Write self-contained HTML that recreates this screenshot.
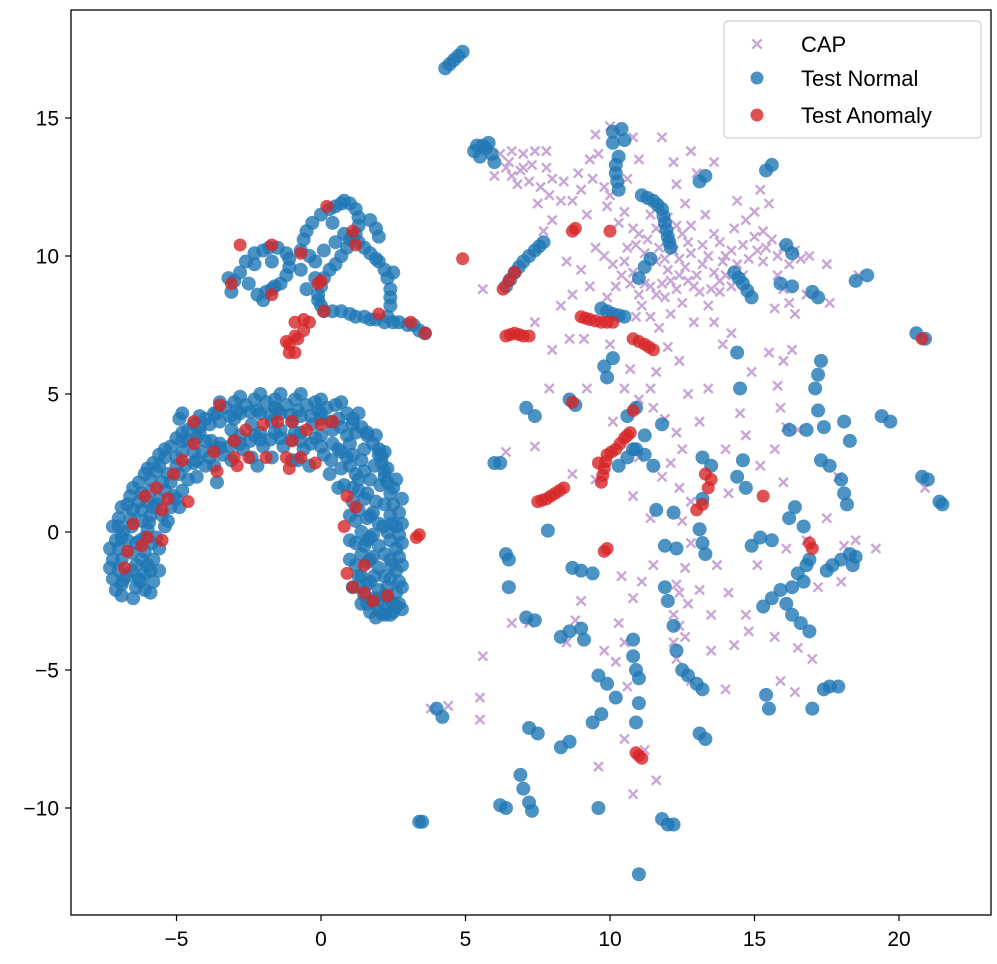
<!DOCTYPE html>
<html><head><meta charset="utf-8">
<style>
html,body{margin:0;padding:0;background:#fff;}
svg{display:block;font-family:"Liberation Sans","DejaVu Sans",sans-serif;}
</style></head>
<body>
<svg id="chart" width="997" height="964" viewBox="0 0 997 964" xmlns="http://www.w3.org/2000/svg">
<text x="670" y="5" font-size="22" text-anchor="middle">Embedding space</text>
<rect x="0" y="0" width="997" height="10" fill="#fff"/>
<g id="plot"></g>
<g id="axes"></g>
<g id="legend"></g>
</svg>
<script>
const xTicks = [-5, 0, 5, 10, 15, 20];
const yTicks = [15, 10, 5, 0, -5, -10];
const tickLabels = ["\u22125", "0", "5", "10", "15", "20"];
const yTickLabels = ["15", "10", "5", "0", "\u22125", "\u221210"];
const seriesNames = ["CAP", "Test Normal", "Test Anomaly"];

const capPoints = [6.2,13.7,6.6,13.8,7.0,13.7,7.4,13.8,7.8,13.8,6.4,13.2,6.9,13.1,7.2,12.7,7.6,12.5,7.9,12.2,8.3,12.0,6.8,12.6,7.5,11.9,8.0,11.3,7.7,10.9,8.9,13.0,8.7,12.0,9.2,11.5,9.4,12.8,9.6,13.7,9.5,14.4,10.0,14.7,10.8,14.3,11.0,13.5,9.8,12.5,9.9,11.8,10.5,11.6,10.8,11.0,11.4,11.5,12.0,11.4,12.3,12.6,12.2,13.4,13.0,13.0,12.6,11.9,12.8,11.1,13.3,11.5,9.5,10.3,9.8,10.0,10.1,9.7,10.4,9.3,10.7,9.0,11.0,8.6,10.2,8.9,10.6,10.3,11.2,10.1,11.6,9.8,12.0,9.5,12.4,9.9,12.8,10.1,13.2,9.7,13.6,9.4,13.9,9.8,14.2,10.2,14.6,10.4,15.0,10.7,15.3,10.9,14.3,11.0,14.7,11.3,15.0,11.6,15.4,10.3,15.8,10.0,16.2,9.7,16.6,9.9,16.9,10.0,15.8,9.3,16.0,8.8,16.2,8.3,16.4,7.9,15.7,8.1,11.4,8.9,11.8,9.0,12.3,8.8,12.7,9.1,13.1,8.7,12.5,8.3,12.1,7.9,12.9,7.6,13.4,8.2,13.8,8.7,14.2,8.9,11.4,7.8,11.7,7.4,12.0,6.7,12.4,6.2,11.6,5.8,11.4,5.2,11.0,4.8,11.5,4.5,11.9,4.1,12.3,3.6,12.5,3.0,12.1,2.5,11.8,2.0,12.4,1.6,12.8,1.1,12.5,0.4,12.8,-0.4,12.6,-1.3,12.3,-1.9,12.7,-2.6,12.4,-3.4,12.2,-4.0,13.1,-2.1,13.7,-1.2,14.1,-2.2,14.7,-3.0,11.5,-1.2,11.1,-1.8,10.8,-2.4,10.3,-3.3,10.5,-4.0,10.2,-4.7,10.6,-5.6,9.8,-4.3,9.0,-2.5,8.8,-3.2,8.5,-4.0,7.2,-3.3,6.6,-3.3,5.6,-4.5,3.8,-6.4,4.4,-6.3,5.5,-6.0,9.6,-8.5,10.5,-7.5,11.2,-7.9,11.6,-9.0,10.8,-9.5,12.8,-5.4,13.5,-4.3,14.8,-3.6,15.7,-3.8,16.5,-4.2,17.0,-4.6,17.2,-2.0,16.8,-0.3,17.5,0.5,16.0,1.8,15.2,2.4,14.1,1.4,14.0,3.0,14.7,3.5,15.7,3.0,16.1,3.8,15.9,4.5,16.5,3.7,13.1,4.0,13.4,5.2,12.7,5.0,14.5,4.3,15.5,6.5,16.0,6.2,16.3,6.6,15.8,5.3,14.9,5.8,10.5,5.2,10.0,6.8,9.1,7.0,8.6,7.0,8.3,8.2,7.4,7.6,8.0,6.6,7.9,5.2,10.1,4.0,10.7,5.9,9.2,5.2,13.9,6.8,13.6,7.6,14.2,7.2,7.4,3.1,6.4,2.9,5.6,8.8,8.7,2.1,9.5,1.9,11.0,2.7,10.8,1.3,11.4,0.5,10.4,-1.6,13.5,-3.0,14.3,-4.1,15.1,-1.2,16.1,-0.6,18.0,-1.8,18.1,-0.5,19.2,-0.6,17.9,2.0,18.5,-0.3,20.9,1.6,17.5,9.7,16.8,8.6,17.6,8.3,18.6,9.3,15.2,12.4,15.5,11.9,12.8,13.8,13.6,13.4,14.4,12.0,11.8,14.3,10.6,12.8,12.5,10.8,13.8,10.5,8.5,9.8,9.0,9.5,9.3,8.9,8.7,8.6,9.9,8.5,6.5,13.4,6.0,12.9,15.9,-5.4,16.4,-5.8,14.0,-5.7,5.5,-6.8,
10.5,9.8,10.9,10.4,11.3,10.6,11.7,10.3,12.2,10.2,12.6,9.6,13.0,9.3,13.4,10.0,13.6,10.8,14.0,9.3,14.4,9.7,14.8,9.9,15.1,10.2,15.6,10.6,16.0,10.3,16.4,10.2,12.1,9.1,12.9,8.9,13.5,8.8,11.9,8.5,11.1,8.2,10.9,7.8,10.3,11.2,10.0,12.2,9.3,13.5,9.0,12.4,8.4,12.7,8.0,12.8,7.0,13.2,6.6,12.9,7.3,13.3,7.8,13.2,12.4,-2.2,12.2,-3.0,12.6,-3.8,12.3,-4.6,11.2,9.0,11.6,8.6,12.4,9.3,13.8,9.1,14.6,9.3,15.3,9.8,10.8,9.4,11.9,9.9,12.7,10.5,13.2,10.4,14.0,10.0,11.0,10.8,11.6,11.0,12.3,11.1];

const normalPoints = [
-7.1,-2.1,-7,-1.4,-7,-0.6,-7,0.2,-6.7,1,-6.3,1.8,-5.8,2.5,-5.2,3.1,-4.6,3.7,-4,4.1,-3.3,4.5,-2.6,4.6,-1.9,4.7,-1.2,4.6,-0.5,4.6,0.2,4.5,0.9,4.3,1.4,3.8,1.8,3.2,2.1,2.5,2.3,1.8,2.5,1,2.6,0.2,2.6,-0.6,2.6,-1.4,2.6,-2.2,2.5,-2.9,
-6.4,-2,-6.4,-1.2,-6.4,-0.4,-6.2,0.4,-6,1.1,-5.5,1.8,-5,2.4,-4.4,2.9,-3.8,3.3,-3.1,3.7,-2.4,3.9,-1.7,4,-1,4,-0.3,3.9,0.4,3.7,1,3.2,1.4,2.6,1.7,1.9,1.9,1.1,2,0.3,2,-0.5,2,-1.3,2,-2.1,2,-2.8,
-5.8,-1.8,-5.8,-1,-5.7,-0.2,-5.5,0.6,-5.1,1.3,-4.6,1.9,-4,2.4,-3.4,2.8,-2.7,3,-2,3.1,-1.3,3.1,-0.6,3,0.1,2.8,0.7,2.3,1.1,1.6,1.3,0.8,1.4,0,1.4,-0.8,1.4,-1.6,1.5,-2.3,1.7,-2.9,
-6.7,-1.6,-6.7,-0.3,-6.5,0.8,-5.7,2.2,-4.3,3.4,-3,4.1,-1.5,4.4,0,4.1,1.2,3.6,2.2,2,2.3,0,2.3,-2,-6.1,-2.1,-4.9,0.9,-3.6,1.8,-2.2,2.4,-0.8,2.6,0.6,1.6,1,-0.3,1.1,-2,2.2,-2.6,
-6.9,-1.9,-6.9,-1.0,-6.9,-0.2,-6.6,0.5,-6.2,1.4,-5.9,1.9,-5.4,2.7,-4.8,3.3,-4.2,3.8,-3.6,4.3,-2.9,4.4,-2.2,4.4,-1.6,4.5,-0.8,4.4,-0.1,4.4,0.6,4.1,1.1,3.9,1.6,3.5,2.0,2.8,2.2,2.2,2.4,1.4,2.4,0.6,2.4,-0.3,2.4,-1.0,2.4,-1.7,2.3,-2.4,
-6.1,-1.5,-6.1,-0.7,-6.0,0.1,-5.8,0.9,-5.4,1.5,-4.9,2.1,-4.3,2.6,-3.7,3.0,-3.0,3.3,-2.3,3.5,-1.6,3.6,-0.9,3.6,-0.2,3.4,0.4,3.2,0.9,2.7,1.2,2.1,1.6,1.4,1.7,0.6,1.7,-0.2,1.7,-1.0,1.7,-1.8,1.8,-2.5,
-7.2,-1.7,-7.2,-1.0,-7.1,-0.3,-7.0,0.5,-6.6,1.3,-6.1,2.1,-5.6,2.8,-5.0,3.4,-4.4,3.9,-3.7,4.3,-3.0,4.7,-2.3,4.8,-1.6,4.8,-0.9,4.8,-0.2,4.7,0.5,4.6,1.1,4.1,1.6,3.6,2.0,3.0,2.3,2.3,2.5,1.6,2.7,0.7,2.7,-0.1,2.7,-0.9,2.7,-1.8,2.7,-2.6,2.4,-3.0,
-6.3,-1.7,-6.2,-1.0,-6.1,-0.2,-5.9,0.6,-5.6,1.2,-5.2,1.8,-4.7,2.4,-4.1,2.9,-3.5,3.2,-2.8,3.5,-2.1,3.6,-1.4,3.7,-0.7,3.6,0.0,3.5,0.6,3.0,1.0,2.4,1.3,1.9,1.5,1.2,1.6,0.5,1.6,-0.3,1.6,-1.1,1.6,-1.9,1.6,-2.6,
-5.6,-1.4,-5.6,-0.6,-5.4,0.2,-5.2,0.9,-4.8,1.5,-4.3,2.0,-3.7,2.4,-3.1,2.6,-2.4,2.7,-1.7,2.7,-1.0,2.6,-0.4,2.4,0.3,2.1,0.8,1.7,1.1,1.1,1.2,0.4,1.2,-0.4,1.2,-1.2,1.3,-2.0,
-6.9,-2.3,-6.5,-2.4,-5.9,-2.2,-7.3,-1.3,-7.3,-0.6,-7.2,0.2,-6.9,0.9,-6.5,1.6,-6.0,2.3,-5.4,3.0,-4.8,3.6,-4.2,4.2,-3.5,4.7,-2.8,4.9,-2.1,5.0,-1.4,5.0,-0.7,5.0,0.0,4.8,0.7,4.7,1.3,4.3,1.9,3.5,2.2,2.9,2.6,1.9,2.8,1.2,2.8,0.3,2.8,-0.4,2.8,-1.2,2.8,-2.0,2.8,-2.8,2.2,-3.0,1.9,-3.1,-4.9,4.1,-4.8,4.3,
-4.2,3.6,-3.85,3.9,-3.5,4.0,-3.15,4.2,-2.8,4.3,-2.45,4.35,-2.1,4.3,-1.75,4.25,-1.4,4.3,-1.05,4.25,-0.7,4.2,-0.35,4.2,0,4.3,0.35,4.0,0.7,3.8,
-3.85,2.7,-3.5,3.05,-3.15,3.1,-2.8,3.2,-2.45,3.3,-2.1,3.35,-1.75,3.35,-1.4,3.4,-1.05,3.35,-0.7,3.3,-0.35,3.2,0,3.1,0.35,2.6,0.7,2.9,
-6.85,-1.75,-6.55,-1.4,-6.25,-1.8,-6.0,-1.2,-6.55,-0.75,-6.25,-0.3,-6.85,0.0,-6.55,0.2,-6.2,0.8,-5.95,0.35,-5.7,1.0,-6.3,1.1,-5.9,1.5,-5.3,2.1,-4.8,2.9,-4.4,2.5,-5.0,2.7,-5.6,2.4,-4.6,3.3,-4.0,3.3,-5.85,-0.4,-5.9,-1.4,-5.3,0.4,-5.0,1.2,
1.85,2.4,2.05,1.7,1.5,2.2,2.2,1.0,1.8,0.7,2.15,0.2,1.8,-0.1,2.2,-0.8,1.8,-0.9,2.2,-1.6,1.85,-1.6,2.2,-2.3,1.85,-2.4,2.1,-2.95,2.45,-2.55,2.45,-1.2,2.45,0.3,2.1,2.75,1.5,3.0,1.3,1.5,1.1,2.8,0.9,3.5,1.5,-0.5,1.3,-1.6,1.4,-2.6,2.6,-2.7,1.0,-1.0,1.0,0.6,
-3.1,8.7,-2.8,9.4,-2.3,10.1,-1.8,10.3,-1.2,10.1,-1.1,9.6,-1.4,9,-1.9,8.7,-2,8.4,-1.6,8.9,-0.7,10.2,-0.5,10.9,0,11.5,0.5,11.8,0.8,12,1.2,11.7,1.3,11.1,1,10.6,0.7,10,0.3,9.5,0,8.9,-0.1,8.4,0.1,8,0.7,8,1.2,7.8,1.7,7.7,2.2,7.6,2.7,7.6,3.2,7.5,3.6,7.2,-0.7,9.5,-0.4,10,0.1,10.2,0.8,10.8,1.3,10.5,1.7,10.1,2,9.8,2.3,9.2,2.4,8.5,2,10.7,1.7,11.3,-2.5,9.0,-0.5,8.8,-0.2,9.2,2.3,7.8,2.5,9.4,-3.2,9.2,0.4,11.2,-1.7,9.8,-2.3,9.7,
-3.0,9.1,-2.6,9.8,-2.0,10.2,-1.5,10.3,-1.1,9.9,-1.2,9.3,-1.7,8.8,-2.2,8.6,-0.6,10.6,-0.3,11.2,0.3,11.7,0.7,11.9,1.0,11.9,1.3,11.4,1.2,10.8,0.9,10.3,0.5,9.7,0.1,9.2,-0.1,8.6,0.0,8.2,0.4,8.0,1.0,7.9,1.5,7.8,1.9,7.7,2.5,7.6,3.0,7.5,3.4,7.3,-0.2,9.8,0.5,10.5,1.1,10.7,1.5,10.3,1.9,9.9,2.2,9.5,2.4,8.8,2.4,8.2,1.9,11.0,
4.3,16.8,4.6,17.1,4.9,17.4,4.45,16.95,4.75,17.25,5.3,13.8,5.6,14,5.9,13.7,6.0,13.4,5.5,13.6,5.8,14.1,5.7,13.9,5.4,14.0,10.1,14.5,10.4,14.6,10.1,14.1,10.5,14.2,10.3,13.6,10.2,13,10.3,12.4,10.2,13.3,10.25,12.7,11.1,12.2,11.5,12,11.8,11.7,11.9,11.2,12,10.7,12.1,10.3,11.3,12.1,11.65,11.85,11.85,11.45,11.95,10.95,12.05,10.5,13.1,12.7,13.3,12.9,15.4,13.1,15.6,13.3,
6.4,8.9,6.7,9.4,7,9.8,7.4,10.2,7.7,10.5,6.55,9.15,6.85,9.6,7.2,10.0,7.55,10.35,11.2,9.6,11.4,9.9,11.0,9.2,9.7,8.1,10.1,7.9,10.5,7.8,9.9,8.0,10.3,7.85,14.3,9.4,14.6,9.0,14.9,8.5,14.45,9.2,14.75,8.75,16.1,10.4,16.3,10.1,15.9,9.0,16.3,8.9,17,8.7,17.2,8.5,18.5,9.1,18.9,9.3,20.6,7.2,20.9,7,
9.8,6.0,9.9,5.6,10.1,6.3,10.6,4.2,10.9,4.5,7.1,4.5,7.4,4.2,8.6,4.8,8.8,4.6,11.8,3.9,11.2,3.5,10.8,3.0,13.2,2.7,13.5,2.4,14.4,6.5,14.5,5.2,6.0,2.5,6.2,2.5,7.85,0.05,6.4,-0.8,6.5,-1,6.5,-2,8.7,-1.3,9.0,-1.4,9.4,-1.5,7.1,-3.1,7.4,-3.2,8.3,-3.8,8.6,-3.6,9,-3.5,9.1,-3.9,10.8,-3.9,10.8,-4.5,10.9,-5,9.6,-5.2,9.9,-5.5,10.2,-6.0,11.0,-5.3,11.0,-6.2,10.9,-6.9,12.2,-3.4,12.0,-2.5,11.9,-2,12.3,-4.3,12.5,-5,13,-5.5,13.2,-5.7,12.7,-5.2,13.3,-7.5,13.1,-7.3,7.2,-7.1,7.5,-7.3,8.3,-7.8,8.6,-7.6,9.4,-6.9,9.7,-6.6,6.9,-8.8,7.0,-9.3,7.2,-9.8,7.3,-10.1,6.2,-9.9,6.4,-10.0,9.6,-10,11.8,-10.4,12.0,-10.6,12.2,-10.6,11.0,-12.4,3.4,-10.5,3.5,-10.5,4.0,-6.4,4.2,-6.7,
16.4,0.9,16.2,0.5,16.7,0.2,15.2,-0.2,14.9,-0.5,15.6,-0.3,12.2,0.7,11.6,0.8,13.1,0.1,13.2,-0.4,13.3,-0.8,12.3,-0.6,11.9,-0.5,14.6,2.6,14.4,2.0,14.7,1.6,16.2,3.7,16.8,3.7,17.4,3.8,17.3,6.2,17.2,5.7,17.1,5.2,17.2,4.4,18.1,4.0,18.3,3.3,19.4,4.2,19.7,4.0,20.8,2.0,21.0,1.9,21.5,1.0,21.4,1.1,17.3,2.6,17.6,2.4,18.0,1.9,18.1,1.4,18.2,1.0,18.3,-0.8,18.5,-0.9,18.0,-1.0,17.7,-1.2,17.5,-1.4,18.4,-1.2,16.5,-1.5,16.7,-1.8,16.3,-2.0,15.3,-2.7,15.6,-2.4,15.9,-2.1,16.1,-2.6,16.3,-3.0,16.6,-3.3,16.9,-3.6,15.4,-5.9,15.5,-6.4,17.0,-6.4,17.6,-5.6,17.9,-5.6,17.4,-5.7,16.8,-1.2,16.9,-1.0,10.3,2.4,10.6,2.7,10.9,3.0,11.5,2.4,11.2,2.8,13.2,1.2];

const anomalyPoints = [-6.2,-0.5,-6.5,0.3,-6.1,1.3,-5.7,1.6,-5.3,1.2,-5.5,0.8,-5.1,2.1,-4.8,2.6,-4.4,3.2,-3.7,2.9,-3,3.3,-2.6,3.7,-2.0,3.9,-1.5,4.0,-1,4.0,-0.5,3.7,0,3.9,0.4,4.0,-3.6,2.2,-3,2.7,-2.5,2.7,-1.9,2.7,-1.2,2.7,-0.7,2.7,-0.2,2.5,-4.6,1.1,-6.7,-0.7,-6.8,-1.3,-6.0,-0.2,-5.5,-0.3,0.9,1.3,1.2,0.9,0.8,0.2,0.9,-1.5,1.1,-2.0,1.5,-2.2,1.8,-2.5,2.3,-2.3,-1.0,3.3,-3.5,4.6,-4.4,4.0,-2.9,2.4,3.3,-0.2,3.4,-0.1,-1.1,2.3,1.5,-1.2,
-3.1,9.0,-2.8,10.4,-1.7,10.4,-1.7,8.6,-0.7,10.1,-0.1,9.0,0,9.1,0.2,11.8,1.1,10.9,1.2,10.4,2,7.9,3.1,7.6,3.6,7.2,0.1,8.0,
-0.9,7.6,-0.6,7.7,-0.6,7.3,-0.9,7.1,-1.1,6.8,-1.1,6.5,-0.9,6.5,-0.8,7.0,-0.4,7.6,-1.2,6.9,
4.9,9.9,6.3,8.8,6.5,9.1,6.7,9.4,8.7,10.9,8.8,11.0,10.0,10.9,6.4,7.1,6.7,7.2,7.0,7.1,7.2,7.1,6.55,7.15,6.85,7.15,9.0,7.8,9.3,7.7,9.7,7.6,10.1,7.6,9.15,7.75,9.5,7.65,9.9,7.6,10.8,7.0,11.2,6.8,11.5,6.6,11.0,6.9,11.35,6.7,8.7,4.7,10.8,4.4,9.7,1.8,9.8,2.3,9.9,2.8,10.2,3.0,10.5,3.4,10.7,3.6,9.6,2.5,9.75,2.05,9.85,2.55,10.05,2.9,10.35,3.2,10.6,3.5,7.5,1.1,7.8,1.2,8.1,1.4,8.4,1.6,7.65,1.15,7.95,1.3,8.25,1.5,13.3,2.1,13.4,1.6,13.5,1.9,13.2,1.0,13.0,0.8,15.3,1.3,9.9,-0.6,9.8,-0.7,16.9,-0.4,17.0,-0.6,20.8,7.0,11.0,-8.1,11.1,-8.2,10.9,-8.0];

const X0 = 321, XS = 28.9, Y0 = 532, YS = 27.6;
const L = 71, R = 991, T = 10, B = 915;
function sx(v){ return X0 + v * XS; }
function sy(v){ return Y0 - v * YS; }
const NS = "http://www.w3.org/2000/svg";
function mk(tag, attrs, parent){
  const e = document.createElementNS(NS, tag);
  for (const k in attrs) e.setAttribute(k, attrs[k]);
  parent.appendChild(e);
  return e;
}
const plot = document.getElementById('plot');
const axes = document.getElementById('axes');
const legend = document.getElementById('legend');

const capG = mk('g', {}, plot);


for (let i = 0; i < capPoints.length; i += 2) {
  const cx = sx(capPoints[i]), cy = sy(capPoints[i+1]), d = 4.5;
  const p = mk('path', {d:`M${cx-d},${cy-d}L${cx+d},${cy+d}M${cx-d},${cy+d}L${cx+d},${cy-d}`, stroke:'#c8a6d6', 'stroke-width':2.4, fill:'none'}, capG);
  
  
}
const nG = mk('g', {}, plot);


for (let i = 0; i < normalPoints.length; i += 2) {
  const c = mk('circle', {cx:sx(normalPoints[i]), cy:sy(normalPoints[i+1]), r:7, fill:'#1f77b4', 'fill-opacity':0.8}, nG);
  
  
}
const aG = mk('g', {}, plot);


for (let i = 0; i < anomalyPoints.length; i += 2) {
  const c = mk('circle', {cx:sx(anomalyPoints[i]), cy:sy(anomalyPoints[i+1]), r:6.5, fill:'#d62728', 'fill-opacity':0.8}, aG);
  
  
}

const frame = mk('rect', {x:L, y:T, width:R-L, height:B-T, fill:'none', stroke:'#000', 'stroke-width':1.3}, axes);


xTicks.forEach((v, i) => {
  const x = sx(v);
  const t = mk('line', {x1:x, x2:x, y1:B, y2:B+6, stroke:'#000', 'stroke-width':1.2}, axes);
  
  
  const lb = mk('text', {x:x, y:B+31, 'font-size':21, 'text-anchor':'middle'}, axes);
  lb.textContent = tickLabels[i];
  
  
});
yTicks.forEach((v, i) => {
  const y = sy(v);
  const t = mk('line', {x1:L-6, x2:L, y1:y, y2:y, stroke:'#000', 'stroke-width':1.2}, axes);
  
  
  const lb = mk('text', {x:L-12, y:y+7.5, 'font-size':21, 'text-anchor':'end'}, axes);
  lb.textContent = yTickLabels[i];
  
  
});

const lbox = mk('rect', {x:724, y:21, width:257, height:117, rx:4, fill:'#fff', 'fill-opacity':0.8, stroke:'#d0d0d0', 'stroke-width':1.2}, legend);


const ly = [44, 78, 115];
seriesNames.forEach((n, i) => {
  const g = mk('g', {}, legend);
  
  
  const mx = 757, my = ly[i];
  if (i === 0) {
    const d = 4.5;
    mk('path', {d:`M${mx-d},${my-d}L${mx+d},${my+d}M${mx-d},${my+d}L${mx+d},${my-d}`, stroke:'#c8a6d6', 'stroke-width':2.4}, g);
  } else {
    mk('circle', {cx:mx, cy:my, r:6.5, fill: i === 1 ? '#1f77b4' : '#d62728', 'fill-opacity':0.8}, g);
  }
  const t = mk('text', {x:801, y:my+8, 'font-size':22}, g);
  t.textContent = n;
});
</script>
</body></html>
